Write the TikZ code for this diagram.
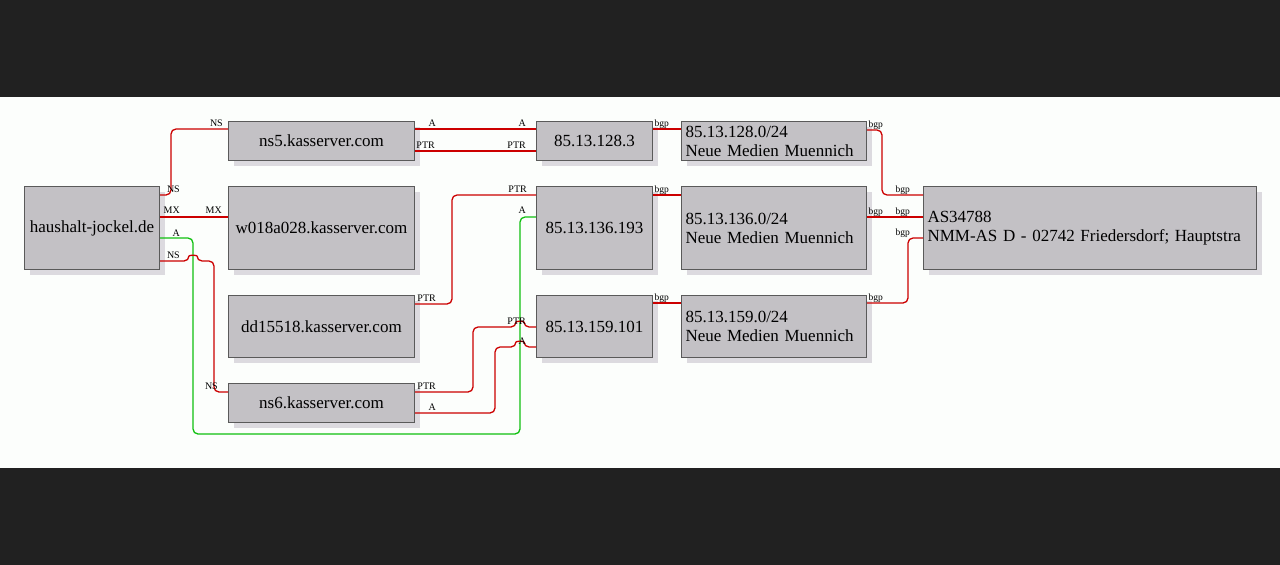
\documentclass[tikz,border=0pt]{standalone}
\usepackage{fontspec}
\setmainfont{Liberation Serif}
\usetikzlibrary{shadows}
\definecolor{bandc}{HTML}{212121}
\definecolor{bgc}{HTML}{FCFEFC}
\definecolor{boxc}{HTML}{C3C1C5}
\definecolor{edgec}{HTML}{5A5A5A}
\definecolor{shadc}{HTML}{DCDADF}
\definecolor{redc}{HTML}{CC0000}
\definecolor{greenc}{HTML}{10C010}
\begin{document}
\begin{tikzpicture}[x=1pt,y=-1pt,
  box/.style={draw=edgec, fill=boxc, line width=1pt, inner sep=0pt, anchor=north west,
    font=\fontsize{17}{19}\selectfont,
    drop shadow={shadow xshift=5pt, shadow yshift=-5pt, fill=shadc, opacity=1}},
  lbox/.style={box, align=left, inner xsep=4pt, inner ysep=0pt},
  rl/.style={draw=redc, line width=1.3pt, rounded corners=5pt},
  gl/.style={draw=greenc, line width=1.3pt, rounded corners=5pt},
  lb/.style={font=\fontsize{10}{10}\selectfont, inner sep=0pt, anchor=base east},
  bg/.style={font=\fontsize{9.5}{9.5}\selectfont, inner sep=0pt, anchor=base east}]
\useasboundingbox (0,0) rectangle (1280,565);
\fill[bandc] (0,0) rectangle (1280,565);
\fill[bgc] (0,97) rectangle (1280,468);

% boxes
\node[box, minimum width=135pt, minimum height=83pt] (hj) at (24,186) {haushalt-jockel.de};
\node[box, minimum width=186pt, minimum height=39pt] (ns5) at (228,121) {ns5.kasserver.com};
\node[box, minimum width=186pt, minimum height=83pt] (w18) at (228,186) {w018a028.kasserver.com};
\node[box, minimum width=186pt, minimum height=62pt] (dd) at (228,295) {dd15518.kasserver.com};
\node[box, minimum width=186pt, minimum height=39pt] (ns6) at (228,383) {ns6.kasserver.com};
\node[box, minimum width=116pt, minimum height=39pt] (ipa) at (536,121) {85.13.128.3};
\node[box, minimum width=116pt, minimum height=83pt] (ipb) at (536,186) {85.13.136.193};
\node[box, minimum width=116pt, minimum height=62pt] (ipc) at (536,295) {85.13.159.101};
\node[lbox, text width=177pt, minimum height=39pt] (neta) at (681,121) {85.13.128.0/24\\Neue Medien Muennich};
\node[lbox, text width=177pt, minimum height=83pt] (netb) at (681,186) {85.13.136.0/24\\Neue Medien Muennich};
\node[lbox, text width=177pt, minimum height=62pt] (netc) at (681,295) {85.13.159.0/24\\Neue Medien Muennich};
\node[lbox, text width=325pt, minimum height=83pt] (as) at (923,186) {AS34788\\NMM-AS D - 02742 Friedersdorf; Hauptstra};

% green connector
\draw[gl] (hj.east |- 0,238) -- (193,238) -- (193,434) -- (520,434) -- (520,217) -- (ipb.west |- 0,217);
\node[lb] (la1) at (180,236) {A};
\node[lb] (la2) at (526,213) {A};

% red connectors
\draw[rl] (hj.east |- 0,195) -- (171,195) -- (171,129) -- (ns5.west |- 0,129);
\node[lb] (ln1) at (180,192) {NS};
\node[lb] (ln2) at (223,126) {NS};

\draw[rl] (hj.east |- 0,217) -- (w18.west |- 0,217);
\node[lb] (lm1) at (180,213) {MX};
\node[lb] (lm2) at (222,213) {MX};

\draw[rl] (hj.east |- 0,261) -- (189,261) .. controls (189,255) and (197,255) .. (197,261) -- (214,261) -- (214,392) -- (ns6.west |- 0,392);
\node[lb] (ln3) at (180,258) {NS};
\node[lb] (ln4) at (218,389) {NS};

\draw[rl] (ns5.east |- 0,129) -- (ipa.west |- 0,129);
\node[lb] (la3) at (436,126) {A};
\node[lb] (la4) at (526,126) {A};
\draw[rl] (ns5.east |- 0,151) -- (ipa.west |- 0,151);
\node[lb] (lp1) at (435,148) {PTR};
\node[lb] (lp2) at (526,148) {PTR};

\draw[rl] (dd.east |- 0,304) -- (452,304) -- (452,195) -- (ipb.west |- 0,195);
\node[lb] (lp3) at (436,301) {PTR};
\node[lb] (lp4) at (527,192) {PTR};

\draw[rl] (ns6.east |- 0,392) -- (473,392) -- (473,327) -- (516,327) .. controls (516,321) and (524,321) .. (524,327) -- (ipc.west |- 0,327);
\node[lb] (lp5) at (436,389) {PTR};
\node[lb] (lp6) at (526,324) {PTR};

\draw[rl] (ns6.east |- 0,413) -- (495,413) -- (495,347) -- (516,347) .. controls (516,341) and (524,341) .. (524,347) -- (ipc.west |- 0,347);
\node[lb] (la5) at (436,410) {A};
\node[lb] (la6) at (526,344) {A};

% bgp
\draw[rl] (ipa.east |- 0,129) -- (neta.west |- 0,129);
\node[bg] (b1) at (669,126) {bgp};
\draw[rl] (ipb.east |- 0,195) -- (netb.west |- 0,195);
\node[bg] (b2) at (669,192) {bgp};
\draw[rl] (ipc.east |- 0,303) -- (netc.west |- 0,303);
\node[bg] (b3) at (669,300) {bgp};

\draw[rl] (neta.east |- 0,130) -- (882,130) -- (882,195) -- (as.west |- 0,195);
\node[bg] (b4) at (883,127) {bgp};
\node[bg] (b5) at (910,192) {bgp};
\draw[rl] (netb.east |- 0,217) -- (as.west |- 0,217);
\node[bg] (b6) at (883,214) {bgp};
\node[bg] (b7) at (910,214) {bgp};
\draw[rl] (netc.east |- 0,303) -- (908,303) -- (908,238) -- (as.west |- 0,238);
\node[bg] (b8) at (883,300) {bgp};
\node[bg] (b9) at (910,235) {bgp};
\end{tikzpicture}
\end{document}
